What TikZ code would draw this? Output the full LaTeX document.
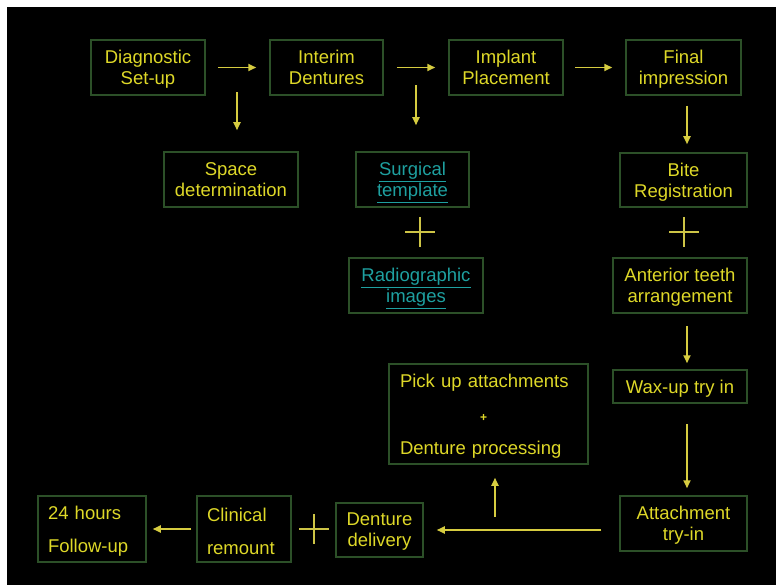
\documentclass[tikz,border=0pt]{standalone}
\usepackage{fontspec}
\setmainfont{Liberation Sans}
\usetikzlibrary{arrows.meta}
\definecolor{txtyel}{RGB}{222,216,40}
\definecolor{arryel}{RGB}{214,204,64}
\definecolor{boxgreen}{RGB}{44,80,40}
\definecolor{tmplteal}{RGB}{30,160,160}
\tikzset{
  box/.style={draw=boxgreen, line width=1.5pt, inner sep=0pt, text=txtyel, align=center,
              text depth=0pt, font=\fontsize{18.5}{21}\selectfont},
  leftbox/.style={box, align=left, text depth={}},
  arr/.style={draw=arryel, line width=1.8pt, -{Triangle[length=8pt,width=7pt]}},
  plussign/.style={draw=arryel!90!gray, line width=1.2pt},
}
\begin{document}
\begin{tikzpicture}[x=1pt,y=-1pt]
        \fill[white] (0,0) rectangle (776,585);
        \fill[black] (7,7) rectangle (776,585);
        % top row
        \node[box, minimum width=114pt, minimum height=55pt] (diag) at (148,67.5) {Diagnostic\\Set-up};
        \node[box, minimum width=113pt, minimum height=55pt] (interim) at (326.5,67.5) {Interim\\Dentures};
        \node[box, minimum width=114pt, minimum height=55pt] (implant) at (506,67.5) {Implant\\Placement};
        \node[box, minimum width=115pt, minimum height=55pt] (final) at (683.5,67.5) {Final\\impression};
        % second row
        \node[box, minimum width=134pt, minimum height=55pt] (space) at (231,179.5) {Space\\determination};
        \node[box, minimum width=113pt, minimum height=55pt, text=tmplteal] (surg) at (412.5,179.5) {\underline{Surgical}\\\underline{template}};
        \node[box, minimum width=127pt, minimum height=54pt] (bite) at (683.5,180) {Bite\\Registration};
        % third row
        \node[box, minimum width=134pt, minimum height=55pt, text=tmplteal] (radio) at (416,285.5) {\underline{Radiographic}\\\underline{images}};
        \node[box, minimum width=134pt, minimum height=55pt] (ant) at (680,285.5) {Anterior teeth\\arrangement};
        \node[box, minimum width=134pt, minimum height=33pt] (wax) at (680,386.5) {Wax-up try in};
        \node[leftbox, minimum width=199pt, minimum height=100pt, text width=177pt, text height=18.5pt] (pick) at (488.5,414)
             {Pick up attachments\\[12.5pt]\makebox[167pt]{\fontsize{12}{12}\selectfont\bfseries +}\\[12.5pt]Denture processing};
        % bottom row
        \node[box, minimum width=127pt, minimum height=55pt] (attach) at (683.5,523.5) {Attachment\\try-in};
        \node[box, minimum width=87pt, minimum height=54pt] (deliv) at (379.5,530) {Denture\\delivery};
        \node[leftbox, minimum width=94pt, minimum height=66pt, text width=74pt, text height=17.5pt,
              font=\fontsize{18.5}{33.3}\selectfont] (clin) at (244,529) {Clinical\\remount};
        \node[leftbox, minimum width=108pt, minimum height=66pt, text width=88pt, text height=17.5pt,
              font=\fontsize{18.5}{33.3}\selectfont] (follow) at (92,529) {24 hours\\Follow-up};

        \draw[arr, shorten <=12pt, shorten >=13pt] (diag) -- (interim);
        \draw[arr, shorten <=13pt, shorten >=13pt] (interim) -- (implant);
        \draw[arr, shorten <=11pt, shorten >=13pt] (implant) -- (final);
        \draw[arr] ([shift={(6,-59)}]space.north) -- ([shift={(6,-21)}]space.north);
        \draw[arr] ([shift={(3.5,-66)}]surg.north) -- ([shift={(3.5,-26)}]surg.north);
        \draw[arr] ([shift={(3.5,10)}]final.south) -- ([shift={(3.5,-8)}]bite.north);
        \draw[arr] ([shift={(7,12)}]ant.south) -- ([shift={(7,-6)}]wax.north);
        \draw[arr] ([shift={(7,20)}]wax.south) -- ([shift={(3.5,-7)}]attach.north);
        \draw[arr, shorten <=18pt, shorten >=13pt] (attach.west |- deliv.east) -- (deliv.east);
        \draw[arr] ([shift={(6.5,52)}]pick.south) -- ([shift={(6.5,13)}]pick.south);
        \draw[arr, shorten <=5pt, shorten >=6pt] (clin) -- (follow);

        % plus signs
        \foreach \px/\py in {420/232, 684/232, 314/529}
          \draw[plussign] (\px-15,\py) -- (\px+15,\py) (\px,\py-15) -- (\px,\py+15);
\end{tikzpicture}
\end{document}
